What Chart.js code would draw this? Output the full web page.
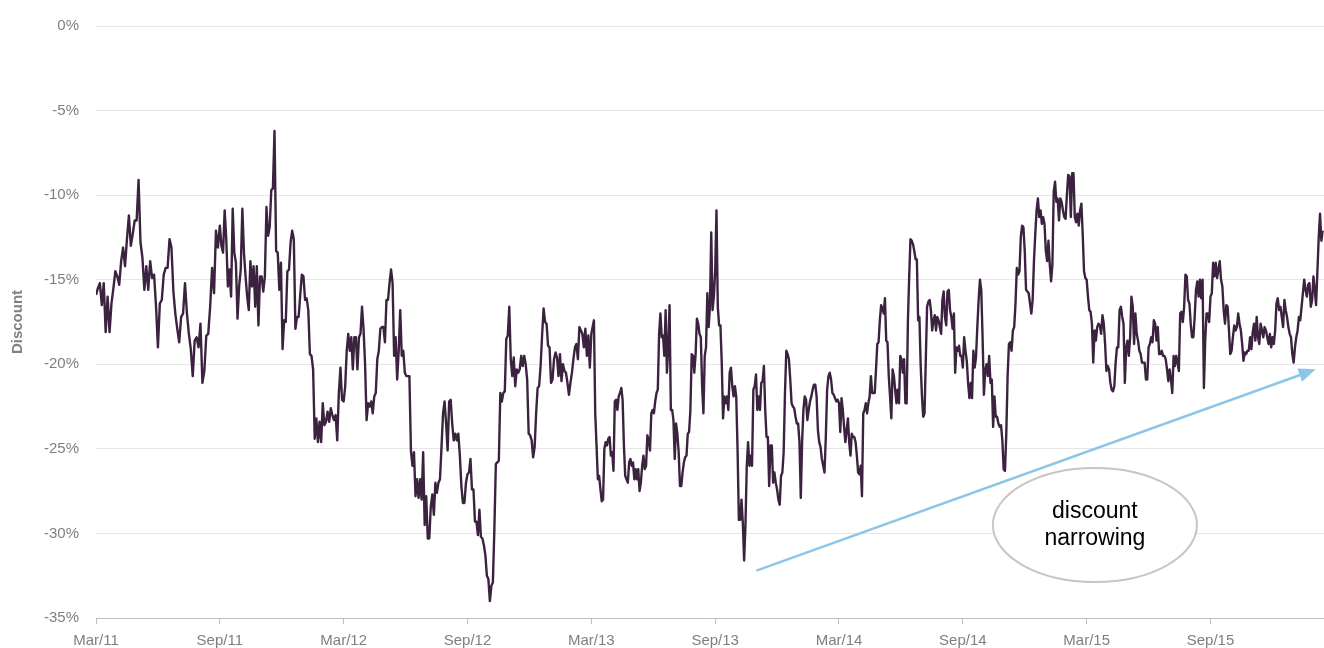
<!DOCTYPE html>
<html>
<head>
<meta charset="utf-8">
<script src="https://cdn.jsdelivr.net/npm/chart.js@4.4.1/dist/chart.umd.min.js"></script>
<style>
  html, body { margin: 0; padding: 0; background: #fff; overflow: hidden; }
  #wrap { position: relative; width: 1324px; height: 658px; }
</style>
</head>
<body>
<div id="wrap"><canvas id="myChart"></canvas></div>
<script>
// discount readings, one list per half year, each spread evenly over its six months
const mar11 = [-15.9, -15.5, -15.2, -16.5, -15.2, -18.1, -16.0, -18.1, -16.4, -15.5, -14.5, -14.8, -15.3, -13.9, -13.1, -14.2,
  -12.6, -11.2, -13.0, -12.3, -11.5, -11.5, -9.1, -12.8, -13.7, -15.6, -14.2, -15.6, -13.9, -14.9, -14.7, -16.5, -19.0,
  -16.4, -16.2, -14.7, -14.3, -14.3, -12.6, -13.1, -15.7, -17.0, -17.9, -18.7, -17.2, -17.0, -15.2, -17.0, -18.2, -19.1,
  -20.7, -18.6, -18.4, -19.0, -17.6, -21.1, -20.4, -18.3, -18.2, -16.6, -14.3, -15.8, -12.1, -13.1];
const sep11 = [-11.8, -13.0, -13.4, -10.9, -12.6, -15.4, -14.4, -16.0, -10.8, -13.4, -14.0, -17.3, -15.4, -14.4, -10.8,
  -13.4, -14.8, -16.0, -16.8, -13.9, -15.4, -14.2, -16.6, -14.2, -17.7, -14.8, -14.8, -15.7, -14.8, -10.7, -12.4, -11.9,
  -9.7, -9.6, -6.2, -13.3, -13.4, -15.6, -14.0, -19.1, -17.4, -17.5, -14.5, -14.4, -12.8, -12.1, -12.6, -17.9, -17.2,
  -17.2, -15.9, -14.7, -14.8, -16.2, -16.1, -16.8, -19.4, -19.5, -20.3, -24.4, -23.2, -24.6, -23.4, -24.6, -22.3, -23.6,
  -23.4, -22.8, -23.4, -22.6, -23.0, -23.3, -23.0, -24.5, -21.7, -20.2, -22.1];
const mar12 = [-22.2, -21.3, -19.2, -18.2, -19.2, -18.4, -20.3, -18.4, -18.4, -20.3, -18.4, -18.2, -16.6, -17.9, -20.0,
  -23.3, -22.3, -22.5, -22.2, -22.9, -21.9, -21.7, -19.7, -19.2, -17.9, -17.8, -17.8, -18.7, -16.2, -16.2, -15.2, -14.4,
  -15.2, -19.5, -18.4, -20.9, -19.2, -16.8, -19.5, -19.2, -20.5, -20.7, -20.7, -20.7, -25.1, -26.0, -25.2, -27.8, -26.8,
  -27.9, -26.8, -28.0, -25.2, -29.5, -27.8, -30.3, -30.3, -28.4, -27.7, -28.9, -27.0, -27.6, -27.0, -26.8, -24.9, -22.9,
  -22.2, -23.5, -25.1, -22.2, -22.1, -23.5, -24.5, -24.1, -24.5, -24.1, -25.4, -27.2, -28.2, -28.2, -27.0];
const sep12 = [-26.5, -26.4, -25.6, -27.4, -27.4, -29.3, -29.3, -30.1, -28.6, -30.2, -30.3, -30.7, -31.3, -32.5, -32.7,
  -34.0, -33.1, -32.9, -29.8, -25.9, -25.8, -25.7, -21.7, -22.2, -21.7, -21.6, -18.5, -18.3, -16.6, -19.7, -20.7, -19.6,
  -21.3, -20.3, -20.5, -20.3, -19.5, -20.1, -19.5, -20.0, -20.9, -24.1, -24.2, -24.5, -25.5, -24.9, -22.9, -21.4, -21.3,
  -20.1, -18.3, -16.7, -17.5, -17.6, -18.9, -19.0, -21.1, -20.9, -19.7, -19.3, -19.6, -20.7, -19.4, -21.0, -20.0, -20.4,
  -20.5, -21.1, -21.8, -21.1, -20.5, -19.7, -19.0, -18.8, -19.7, -17.8, -18.0, -18.2, -19.0, -17.9, -19.5, -18.3, -20.2];
const mar13 = [-18.2, -17.8, -17.4, -22.9, -24.8, -26.8, -26.6, -27.4, -28.1, -28.0, -25.0, -24.6, -24.8, -24.4, -24.3,
  -25.4, -25.2, -26.3, -22.2, -22.1, -22.7, -21.9, -21.7, -21.4, -22.1, -24.8, -26.6, -26.8, -27.0, -25.8, -25.6, -26.0,
  -25.8, -26.8, -26.2, -26.8, -26.2, -27.5, -27.0, -26.0, -25.4, -26.2, -26.0, -24.2, -24.5, -25.1, -22.9, -22.7, -22.9,
  -22.2, -21.7, -21.5, -18.2, -17.0, -18.4, -18.3, -19.5, -16.8, -20.5, -19.0, -16.5, -22.7, -22.7, -23.3, -25.6, -23.5,
  -24.1, -25.2, -27.2, -27.2, -26.4, -25.8, -25.5, -25.4, -24.1, -24.0, -22.7, -19.4, -19.5, -20.5, -19.4, -17.3, -17.6,
  -18.2, -18.4, -21.3, -22.9, -19.5, -19.0, -15.8, -17.8, -16.6, -12.2, -16.8, -16.0];
const sep13 = [-14.5, -10.9, -16.6, -17.7, -17.7, -19.9, -23.2, -21.9, -22.3, -21.9, -22.7, -20.5, -20.2, -21.3, -21.9,
  -21.3, -21.9, -25.0, -29.2, -29.2, -28.0, -29.4, -31.6, -29.5, -26.0, -24.6, -26.0, -25.4, -26.0, -21.5, -21.3, -20.6,
  -22.7, -21.9, -22.7, -21.1, -21.0, -20.1, -22.7, -24.3, -24.3, -27.2, -24.8, -24.8, -27.0, -26.4, -27.0, -27.4, -28.0,
  -28.3, -26.6, -26.4, -25.2, -21.7, -19.2, -19.4, -19.7, -20.9, -22.3, -22.5, -22.6, -23.1, -23.5, -23.5, -24.6, -27.9,
  -24.6, -22.7, -21.9, -22.1, -23.3, -22.7, -22.2, -21.9, -21.5, -21.2, -21.2, -21.9, -23.9, -24.6, -24.9, -25.6, -26.0,
  -26.4, -24.3, -21.5, -20.7, -20.5, -20.9, -21.7, -21.8, -22.0, -22.2, -22.1];
const mar14 = [-22.3, -24.0, -22.0, -22.7, -23.7, -24.6, -23.9, -23.2, -24.6, -25.4, -24.1, -24.3, -24.3, -24.6, -25.4,
  -26.4, -26.5, -26.0, -27.8, -22.9, -22.7, -22.3, -22.9, -22.3, -21.9, -20.7, -21.7, -21.7, -21.7, -20.3, -18.8, -18.7,
  -17.4, -16.5, -16.7, -17.0, -16.1, -18.6, -18.7, -20.7, -21.9, -23.2, -20.3, -20.7, -21.5, -22.3, -21.5, -22.3, -19.5,
  -19.7, -20.5, -19.7, -22.3, -22.3, -17.4, -14.8, -12.6, -12.7, -12.9, -13.3, -13.8, -13.8, -17.4, -17.2, -20.1, -21.9,
  -23.1, -22.9, -19.7, -16.6, -16.3, -16.2, -16.8, -18.0, -17.4, -17.1, -18.0, -17.2, -17.4, -17.8, -18.2, -16.2, -15.7,
  -17.2, -17.7, -15.7, -15.6, -16.8, -17.2, -17.9, -17.0, -20.5, -19.0, -19.2, -18.9, -19.5, -19.5];
const sep14 = [-20.2, -18.4, -19.2, -19.8, -21.1, -22.0, -21.1, -22.0, -19.2, -20.2, -19.6, -17.8, -16.2, -15.0, -15.6,
  -18.4, -21.8, -20.4, -20.0, -20.7, -19.5, -21.1, -20.9, -23.7, -21.9, -23.1, -23.1, -23.5, -23.7, -23.6, -24.5, -26.2,
  -26.3, -24.1, -20.7, -18.8, -18.7, -19.2, -18.0, -17.8, -16.4, -14.3, -14.7, -14.5, -12.5, -11.8, -11.9, -13.3, -15.6,
  -15.7, -15.8, -16.4, -17.0, -16.2, -13.9, -12.3, -10.9, -10.2, -11.3, -10.9, -11.7, -11.3, -11.7, -13.3, -13.9, -12.7,
  -14.1, -15.1, -14.1, -9.8, -9.2, -10.4, -10.2, -11.5, -10.2, -10.4, -10.9, -11.3, -11.4, -10.0, -8.8, -8.9, -11.3,
  -8.7, -8.7, -11.3, -11.6, -11.1, -11.8, -10.9, -10.5, -12.3, -14.5, -14.9];
const mar15 = [-15.0, -16.0, -16.8, -16.9, -17.6, -19.9, -18.0, -18.6, -17.8, -17.6, -17.7, -18.2, -17.1, -17.6, -18.8,
  -20.4, -20.1, -20.3, -21.1, -21.5, -21.6, -21.3, -19.9, -19.0, -19.0, -16.8, -16.6, -17.2, -17.6, -21.1, -19.0, -18.6,
  -19.5, -18.4, -16.0, -16.6, -18.8, -17.0, -18.2, -18.6, -19.2, -19.4, -19.9, -19.9, -19.9, -20.9, -20.9, -19.0, -18.8,
  -18.4, -18.7, -17.4, -17.6, -18.6, -17.8, -19.4, -19.4, -19.2, -19.5, -19.5, -19.7, -20.3, -21.0, -20.3, -20.9, -21.7,
  -19.5, -20.1, -19.5, -19.9, -20.4, -17.0, -16.9, -17.5, -16.6, -14.7, -14.8, -16.2, -16.4, -17.6, -18.4, -18.4, -17.2,
  -15.6, -15.1, -16.0, -15.0, -16.1, -15.0, -21.4, -18.6, -17.0, -17.0, -17.5];
const sep15 = [-16.0, -15.8, -14.0, -14.8, -14.0, -14.9, -14.4, -13.9, -15.0, -15.4, -16.8, -17.6, -16.5, -16.6, -18.0,
  -19.4, -19.2, -18.4, -17.7, -18.0, -17.8, -17.0, -17.6, -18.0, -18.8, -19.8, -19.3, -19.4, -19.2, -19.2, -18.4, -19.1,
  -18.1, -17.6, -18.6, -17.2, -18.4, -18.8, -17.6, -18.0, -18.4, -17.8, -18.0, -18.4, -18.8, -18.2, -19.0, -18.4, -18.8,
  -18.0, -16.4, -16.1, -16.8, -16.6, -17.2, -17.8, -16.2, -16.8, -17.2, -17.8, -18.2, -18.4, -19.4, -19.9, -19.0, -18.4,
  -18.0, -17.2, -17.4, -16.6, -15.8, -15.0, -15.6, -16.0, -15.3, -15.2, -16.6, -16.2, -14.8, -15.6, -16.5, -14.5, -12.5,
  -11.1, -12.7, -12.1];

const tickLabels = ["Mar/11", "Sep/11", "Mar/12", "Sep/12", "Mar/13", "Sep/13", "Mar/14", "Sep/14", "Mar/15", "Sep/15"];
const lastSpan = 5.5; // data stops in late Feb 2016
const endMonth = 59.5;

// arrow and bubble, in chart units (months from Mar/11, percent)
const arrowFrom = [32.0, -32.2];
const arrowTo = [59.1, -20.3];
const bubbleAt = [48.4, -29.5];
const bubbleText = ["discount", "narrowing"];

const halfYears = [mar11, sep11, mar12, sep12, mar13, sep13, mar14, sep14, mar15, sep15];
const points = [];
halfYears.forEach((vals, h) => {
  const span = h === halfYears.length - 1 ? lastSpan : 6;
  vals.forEach((v, i) => points.push({ x: h * 6 + span * i / vals.length, y: v }));
});

const annotate = {
  id: "annotate",
  afterDatasetsDraw(chart) {
    const ctx = chart.ctx;
    const xs = chart.scales.x, ys = chart.scales.y;
    const x0 = xs.getPixelForValue(arrowFrom[0]), y0 = ys.getPixelForValue(arrowFrom[1]);
    const x1 = xs.getPixelForValue(arrowTo[0]), y1 = ys.getPixelForValue(arrowTo[1]);
    const ang = Math.atan2(y1 - y0, x1 - x0);
    const len = 17, half = 7;
    ctx.save();
    ctx.strokeStyle = "#8dc5e8";
    ctx.fillStyle = "#8dc5e8";
    ctx.lineWidth = 2.5;
    ctx.beginPath();
    ctx.moveTo(x0, y0);
    ctx.lineTo(x1 - len * 0.8 * Math.cos(ang), y1 - len * 0.8 * Math.sin(ang));
    ctx.stroke();
    ctx.beginPath();
    ctx.moveTo(x1, y1);
    ctx.lineTo(x1 - len * Math.cos(ang) + half * Math.sin(ang), y1 - len * Math.sin(ang) - half * Math.cos(ang));
    ctx.lineTo(x1 - len * Math.cos(ang) - half * Math.sin(ang), y1 - len * Math.sin(ang) + half * Math.cos(ang));
    ctx.closePath();
    ctx.fill();

    const cx = xs.getPixelForValue(bubbleAt[0]), cy = ys.getPixelForValue(bubbleAt[1]);
    ctx.beginPath();
    ctx.ellipse(cx, cy, 102, 57, 0, 0, Math.PI * 2);
    ctx.fillStyle = "#ffffff";
    ctx.fill();
    ctx.strokeStyle = "#c6c6c6";
    ctx.lineWidth = 2;
    ctx.stroke();
    ctx.fillStyle = "#000000";
    ctx.font = '23px "Liberation Sans", Arial, sans-serif';
    ctx.textAlign = "center";
    ctx.textBaseline = "alphabetic";
    ctx.fillText(bubbleText[0], cx, cy - 7);
    ctx.fillText(bubbleText[1], cx, cy + 20);
    ctx.restore();
  }
};

Chart.defaults.font.family = '"Liberation Sans", Arial, sans-serif';

const ctx = document.getElementById("myChart").getContext("2d");
const myChart = new Chart(ctx, {
  type: "line",
  data: {
    datasets: [{
      label: "Discount",
      data: points,
      borderColor: "#3b2340",
      borderWidth: 2.4,
      borderJoinStyle: "round",
      pointRadius: 0,
      tension: 0
    }]
  },
  options: {
    responsive: true,
    maintainAspectRatio: false,
    animation: false,
    layout: { padding: { top: 25, right: 0, bottom: 0, left: 0 } },
    plugins: { legend: { display: false }, tooltip: { enabled: false } },
    scales: {
      x: {
        type: "linear",
        min: 0,
        max: endMonth,
        afterBuildTicks: (scale) => {
          scale.ticks = tickLabels.map((_, i) => ({ value: i * 6 }));
        },
        ticks: {
          autoSkip: false,
          maxRotation: 0,
          padding: 8,
          color: "#7f7f7f",
          font: { size: 15 },
          callback: (value, index) => tickLabels[index]
        },
        grid: { drawOnChartArea: false, drawTicks: true, tickLength: 6, color: "#bfbfbf" },
        border: { display: true, color: "#bfbfbf", width: 1 }
      },
      y: {
        min: -35,
        max: 0,
        afterFit: (scale) => { scale.width = 96; },
        ticks: {
          stepSize: 5,
          padding: 17,
          color: "#7f7f7f",
          font: { size: 15 },
          callback: (value) => value + "%"
        },
        grid: { color: "#e6e6e6", drawTicks: false },
        border: { display: false },
        title: {
          display: true,
          text: "Discount",
          color: "#7f7f7f",
          font: { size: 15, weight: "bold" },
          padding: { top: 9, bottom: 0 }
        }
      }
    }
  },
  plugins: [annotate]
});
</script>
</body>
</html>
